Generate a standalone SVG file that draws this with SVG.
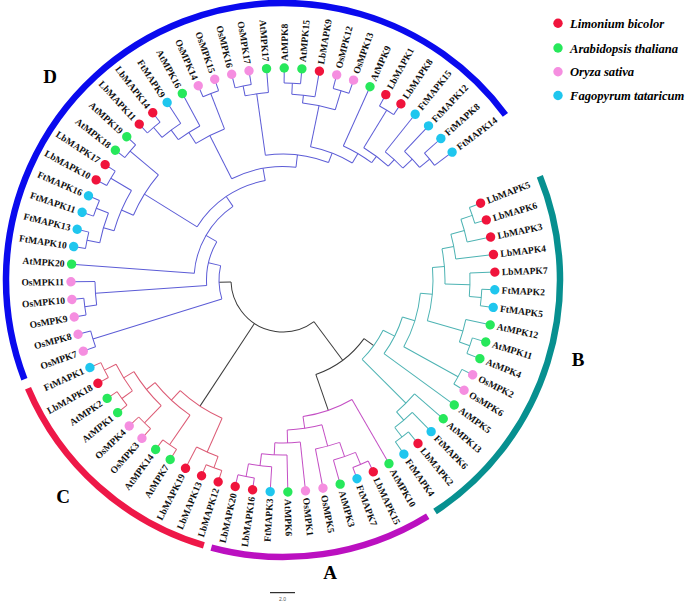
<svg xmlns="http://www.w3.org/2000/svg" width="685" height="603" viewBox="0 0 685 603">
<style>
.tr line,.tr circle{fill:none;stroke-width:1}
.k{stroke:#3a3a3a}.b{stroke:#4db3b3}.a{stroke:#c44fc4}.c{stroke:#dc5a74}.d{stroke:#5c5cd6}
.lb{fill:#f0143c}.at{fill:#27e85b}.os{fill:#f58ee0}.ft{fill:#1fc6ee}
.lf text{font-family:"Liberation Serif","Times New Roman",serif;font-weight:bold;font-size:9.6px;fill:#111}
.cl{fill:none;stroke-width:6.5}
.cll{font-family:"Liberation Serif","Times New Roman",serif;font-weight:bold;font-size:19px;fill:#000;text-anchor:middle}
.lg{font-family:"Liberation Serif","Times New Roman",serif;font-weight:bold;font-style:italic;font-size:12.6px;fill:#000}
</style>
<rect width="685" height="603" fill="#fff"/>
<g transform="translate(283,280)">
<g id="clade-arcs">
<circle class="cl" r="277" pathLength="360" stroke-dasharray="164.4 720" transform="rotate(159)" stroke="#0a0aee"/>
<circle class="cl" r="277" pathLength="360" stroke-dasharray="78.7 720" transform="rotate(-22)" stroke="#079090"/>
<circle class="cl" r="277" pathLength="360" stroke-dasharray="46.5 720" transform="rotate(58.5)" stroke="#bb10c0"/>
<circle class="cl" r="277" pathLength="360" stroke-dasharray="50.4 720" transform="rotate(106.6)" stroke="#ee1848"/>
</g>
<g id="connectors" class="tr">
<g class="k">
<circle r="52" pathLength="360" stroke-dasharray="124.535 720" transform="rotate(53.35)"/>
<line x1="52" x2="100" transform="rotate(53.35)"/>
<line x1="52" x2="151" transform="rotate(123.345)"/>
<line x1="52" x2="64" transform="rotate(177.885)"/>
<circle r="100" pathLength="360" stroke-dasharray="34.975 720" transform="rotate(35.865)"/>
<line x1="100" x2="112" transform="rotate(35.865)"/>
<line x1="100" x2="138" transform="rotate(70.84)"/>
</g>
<g class="b">
<circle r="112" pathLength="360" stroke-dasharray="18.41 720" transform="rotate(26.66)"/>
<circle r="125" pathLength="360" stroke-dasharray="18.9 720" transform="rotate(17.21)"/>
<circle r="138" pathLength="360" stroke-dasharray="23.4525 720" transform="rotate(5.4875)"/>
<circle r="200" pathLength="360" stroke-dasharray="4.78 720" transform="rotate(26.55)"/>
<circle r="150" pathLength="360" stroke-dasharray="20.615 720" transform="rotate(-4.82)"/>
<circle r="162" pathLength="360" stroke-dasharray="12.5475 720" transform="rotate(-11.0925)"/>
<circle r="174" pathLength="360" stroke-dasharray="8.365 720" transform="rotate(-15.275)"/>
<circle r="188" pathLength="360" stroke-dasharray="7.17 720" transform="rotate(-18.86)"/>
<circle r="200" pathLength="360" stroke-dasharray="4.78 720" transform="rotate(-21.25)"/>
<circle r="187" pathLength="360" stroke-dasharray="7.17 720" transform="rotate(-2.13)"/>
<circle r="199" pathLength="360" stroke-dasharray="4.78 720" transform="rotate(2.65)"/>
<circle r="187" pathLength="360" stroke-dasharray="7.17 720" transform="rotate(12.21)"/>
<circle r="198" pathLength="360" stroke-dasharray="4.78 720" transform="rotate(16.99)"/>
<circle r="174" pathLength="360" stroke-dasharray="8.365 720" transform="rotate(40.89)"/>
<circle r="185" pathLength="360" stroke-dasharray="7.17 720" transform="rotate(45.67)"/>
<circle r="197" pathLength="360" stroke-dasharray="4.78 720" transform="rotate(50.45)"/>
<line x1="112" x2="125" transform="rotate(26.66)"/>
<line x1="112" x2="174" transform="rotate(45.07)"/>
<line x1="125" x2="138" transform="rotate(17.21)"/>
<line x1="138" x2="150" transform="rotate(5.4875)"/>
<line x1="138" x2="200" transform="rotate(28.94)"/>
<line x1="150" x2="162" transform="rotate(-4.82)"/>
<line x1="150" x2="187" transform="rotate(15.795)"/>
<line x1="162" x2="174" transform="rotate(-11.0925)"/>
<line x1="162" x2="187" transform="rotate(1.455)"/>
<line x1="174" x2="188" transform="rotate(-15.275)"/>
<line x1="188" x2="200" transform="rotate(-18.86)"/>
<line x1="187" x2="199" transform="rotate(5.04)"/>
<line x1="187" x2="198" transform="rotate(19.38)"/>
<line x1="174" x2="185" transform="rotate(49.255)"/>
<line x1="185" x2="197" transform="rotate(52.84)"/>
<line x1="200" x2="212" transform="rotate(-21.25)"/>
<line x1="200" x2="212" transform="rotate(-16.47)"/>
<line x1="188" x2="212" transform="rotate(-11.69)"/>
<line x1="174" x2="212" transform="rotate(-6.91)"/>
<line x1="187" x2="212" transform="rotate(-2.13)"/>
<line x1="199" x2="212" transform="rotate(2.65)"/>
<line x1="199" x2="212" transform="rotate(7.43)"/>
<line x1="187" x2="212" transform="rotate(12.21)"/>
<line x1="198" x2="212" transform="rotate(16.99)"/>
<line x1="198" x2="212" transform="rotate(21.77)"/>
<line x1="200" x2="212" transform="rotate(26.55)"/>
<line x1="200" x2="212" transform="rotate(31.33)"/>
<line x1="125" x2="212" transform="rotate(36.11)"/>
<line x1="174" x2="212" transform="rotate(40.89)"/>
<line x1="185" x2="212" transform="rotate(45.67)"/>
<line x1="197" x2="212" transform="rotate(50.45)"/>
<line x1="197" x2="212" transform="rotate(55.23)"/>
</g>
<g class="a">
<circle r="138" pathLength="360" stroke-dasharray="21.66 720" transform="rotate(60.01)"/>
<circle r="150" pathLength="360" stroke-dasharray="13.4425 720" transform="rotate(74.9475)"/>
<circle r="172" pathLength="360" stroke-dasharray="8.365 720" transform="rotate(70.765)"/>
<circle r="187" pathLength="360" stroke-dasharray="7.17 720" transform="rotate(67.18)"/>
<circle r="200" pathLength="360" stroke-dasharray="4.78 720" transform="rotate(64.79)"/>
<circle r="163" pathLength="360" stroke-dasharray="8.9625 720" transform="rotate(83.91)"/>
<circle r="175" pathLength="360" stroke-dasharray="8.365 720" transform="rotate(88.69)"/>
<circle r="187" pathLength="360" stroke-dasharray="7.17 720" transform="rotate(93.47)"/>
<circle r="200" pathLength="360" stroke-dasharray="4.78 720" transform="rotate(98.25)"/>
<line x1="138" x2="150" transform="rotate(81.67)"/>
<line x1="150" x2="172" transform="rotate(74.9475)"/>
<line x1="150" x2="163" transform="rotate(88.39)"/>
<line x1="172" x2="187" transform="rotate(70.765)"/>
<line x1="187" x2="200" transform="rotate(67.18)"/>
<line x1="163" x2="175" transform="rotate(92.8725)"/>
<line x1="175" x2="187" transform="rotate(97.055)"/>
<line x1="187" x2="200" transform="rotate(100.64)"/>
<line x1="138" x2="212" transform="rotate(60.01)"/>
<line x1="200" x2="212" transform="rotate(64.79)"/>
<line x1="200" x2="212" transform="rotate(69.57)"/>
<line x1="187" x2="212" transform="rotate(74.35)"/>
<line x1="172" x2="212" transform="rotate(79.13)"/>
<line x1="163" x2="212" transform="rotate(83.91)"/>
<line x1="175" x2="212" transform="rotate(88.69)"/>
<line x1="187" x2="212" transform="rotate(93.47)"/>
<line x1="200" x2="212" transform="rotate(98.25)"/>
<line x1="200" x2="212" transform="rotate(103.03)"/>
</g>
<g class="c">
<circle r="151" pathLength="360" stroke-dasharray="19.12 720" transform="rotate(113.785)"/>
<circle r="188" pathLength="360" stroke-dasharray="7.17 720" transform="rotate(110.2)"/>
<circle r="200" pathLength="360" stroke-dasharray="4.78 720" transform="rotate(107.81)"/>
<circle r="164" pathLength="360" stroke-dasharray="16.73 720" transform="rotate(124.54)"/>
<circle r="200" pathLength="360" stroke-dasharray="4.78 720" transform="rotate(122.15)"/>
<circle r="175" pathLength="360" stroke-dasharray="14.34 720" transform="rotate(134.1)"/>
<circle r="199" pathLength="360" stroke-dasharray="4.78 720" transform="rotate(131.71)"/>
<circle r="187" pathLength="360" stroke-dasharray="9.56 720" transform="rotate(143.66)"/>
<circle r="200" pathLength="360" stroke-dasharray="4.78 720" transform="rotate(141.27)"/>
<circle r="200" pathLength="360" stroke-dasharray="4.78 720" transform="rotate(150.83)"/>
<line x1="151" x2="188" transform="rotate(113.785)"/>
<line x1="151" x2="164" transform="rotate(132.905)"/>
<line x1="188" x2="200" transform="rotate(110.2)"/>
<line x1="164" x2="200" transform="rotate(124.54)"/>
<line x1="164" x2="175" transform="rotate(141.27)"/>
<line x1="175" x2="199" transform="rotate(134.1)"/>
<line x1="175" x2="187" transform="rotate(148.44)"/>
<line x1="187" x2="200" transform="rotate(143.66)"/>
<line x1="187" x2="200" transform="rotate(153.22)"/>
<line x1="200" x2="212" transform="rotate(107.81)"/>
<line x1="200" x2="212" transform="rotate(112.59)"/>
<line x1="188" x2="212" transform="rotate(117.37)"/>
<line x1="200" x2="212" transform="rotate(122.15)"/>
<line x1="200" x2="212" transform="rotate(126.93)"/>
<line x1="199" x2="212" transform="rotate(131.71)"/>
<line x1="199" x2="212" transform="rotate(136.49)"/>
<line x1="200" x2="212" transform="rotate(141.27)"/>
<line x1="200" x2="212" transform="rotate(146.05)"/>
<line x1="200" x2="212" transform="rotate(150.83)"/>
<line x1="200" x2="212" transform="rotate(155.61)"/>
</g>
<g class="d">
<circle r="64" pathLength="360" stroke-dasharray="30.21 720" transform="rotate(162.78)"/>
<circle r="199" pathLength="360" stroke-dasharray="4.78 720" transform="rotate(160.39)"/>
<circle r="76.5" pathLength="360" stroke-dasharray="34.125 720" transform="rotate(175.925)"/>
<circle r="188" pathLength="360" stroke-dasharray="7.17 720" transform="rotate(172.34)"/>
<circle r="200" pathLength="360" stroke-dasharray="4.78 720" transform="rotate(169.95)"/>
<circle r="89" pathLength="360" stroke-dasharray="51.525 720" transform="rotate(184.29)"/>
<circle r="101" pathLength="360" stroke-dasharray="48.08 720" transform="rotate(211.775)"/>
<circle r="163" pathLength="360" stroke-dasharray="16.73 720" transform="rotate(203.41)"/>
<circle r="176" pathLength="360" stroke-dasharray="14.34 720" transform="rotate(196.24)"/>
<circle r="187" pathLength="360" stroke-dasharray="9.56 720" transform="rotate(191.46)"/>
<circle r="200" pathLength="360" stroke-dasharray="4.78 720" transform="rotate(189.07)"/>
<circle r="200" pathLength="360" stroke-dasharray="4.78 720" transform="rotate(198.63)"/>
<circle r="200" pathLength="360" stroke-dasharray="4.78 720" transform="rotate(208.19)"/>
<circle r="200" pathLength="360" stroke-dasharray="4.78 720" transform="rotate(217.75)"/>
<circle r="113.5" pathLength="360" stroke-dasharray="33.43 720" transform="rotate(243.14)"/>
<circle r="162" pathLength="360" stroke-dasharray="11.3525 720" transform="rotate(237.4675)"/>
<circle r="175" pathLength="360" stroke-dasharray="8.365 720" transform="rotate(233.285)"/>
<circle r="187" pathLength="360" stroke-dasharray="7.17 720" transform="rotate(229.7)"/>
<circle r="200" pathLength="360" stroke-dasharray="4.78 720" transform="rotate(227.31)"/>
<circle r="200" pathLength="360" stroke-dasharray="4.78 720" transform="rotate(246.43)"/>
<circle r="126" pathLength="360" stroke-dasharray="29.205 720" transform="rotate(261.965)"/>
<circle r="188" pathLength="360" stroke-dasharray="7.17 720" transform="rotate(258.38)"/>
<circle r="198" pathLength="360" stroke-dasharray="4.78 720" transform="rotate(255.99)"/>
<circle r="136" pathLength="360" stroke-dasharray="18.97 720" transform="rotate(281.68)"/>
<circle r="178" pathLength="360" stroke-dasharray="10.755 720" transform="rotate(276.305)"/>
<circle r="186" pathLength="360" stroke-dasharray="7.17 720" transform="rotate(272.72)"/>
<circle r="197" pathLength="360" stroke-dasharray="4.78 720" transform="rotate(270.33)"/>
<circle r="198" pathLength="360" stroke-dasharray="4.78 720" transform="rotate(284.67)"/>
<circle r="147" pathLength="360" stroke-dasharray="12.85 720" transform="rotate(294.23)"/>
<circle r="155" pathLength="360" stroke-dasharray="11.35 720" transform="rotate(301.4)"/>
<circle r="199" pathLength="360" stroke-dasharray="4.78 720" transform="rotate(299.01)"/>
<circle r="164" pathLength="360" stroke-dasharray="8.365 720" transform="rotate(308.57)"/>
<circle r="177" pathLength="360" stroke-dasharray="7.17 720" transform="rotate(313.35)"/>
<circle r="190" pathLength="360" stroke-dasharray="4.78 720" transform="rotate(318.13)"/>
<line x1="64" x2="199" transform="rotate(162.78)"/>
<line x1="64" x2="76.5" transform="rotate(192.99)"/>
<line x1="76.5" x2="188" transform="rotate(175.925)"/>
<line x1="76.5" x2="89" transform="rotate(210.05)"/>
<line x1="188" x2="200" transform="rotate(172.34)"/>
<line x1="89" x2="101" transform="rotate(235.815)"/>
<line x1="101" x2="163" transform="rotate(211.775)"/>
<line x1="101" x2="113.5" transform="rotate(259.855)"/>
<line x1="163" x2="176" transform="rotate(203.41)"/>
<line x1="163" x2="200" transform="rotate(220.14)"/>
<line x1="176" x2="187" transform="rotate(196.24)"/>
<line x1="176" x2="200" transform="rotate(210.58)"/>
<line x1="187" x2="200" transform="rotate(191.46)"/>
<line x1="187" x2="200" transform="rotate(201.02)"/>
<line x1="113.5" x2="162" transform="rotate(243.14)"/>
<line x1="113.5" x2="126" transform="rotate(276.57)"/>
<line x1="162" x2="175" transform="rotate(237.4675)"/>
<line x1="162" x2="200" transform="rotate(248.82)"/>
<line x1="175" x2="187" transform="rotate(233.285)"/>
<line x1="187" x2="200" transform="rotate(229.7)"/>
<line x1="126" x2="188" transform="rotate(261.965)"/>
<line x1="126" x2="136" transform="rotate(291.17)"/>
<line x1="188" x2="198" transform="rotate(258.38)"/>
<line x1="136" x2="178" transform="rotate(281.68)"/>
<line x1="136" x2="147" transform="rotate(300.65)"/>
<line x1="178" x2="186" transform="rotate(276.305)"/>
<line x1="178" x2="198" transform="rotate(287.06)"/>
<line x1="186" x2="197" transform="rotate(272.72)"/>
<line x1="147" x2="155" transform="rotate(307.08)"/>
<line x1="155" x2="199" transform="rotate(301.4)"/>
<line x1="155" x2="164" transform="rotate(312.75)"/>
<line x1="164" x2="177" transform="rotate(316.935)"/>
<line x1="177" x2="190" transform="rotate(320.52)"/>
<line x1="199" x2="212" transform="rotate(160.39)"/>
<line x1="199" x2="212" transform="rotate(165.17)"/>
<line x1="200" x2="212" transform="rotate(169.95)"/>
<line x1="200" x2="212" transform="rotate(174.73)"/>
<line x1="188" x2="212" transform="rotate(179.51)"/>
<line x1="89" x2="212" transform="rotate(184.29)"/>
<line x1="200" x2="212" transform="rotate(189.07)"/>
<line x1="200" x2="212" transform="rotate(193.85)"/>
<line x1="200" x2="212" transform="rotate(198.63)"/>
<line x1="200" x2="212" transform="rotate(203.41)"/>
<line x1="200" x2="212" transform="rotate(208.19)"/>
<line x1="200" x2="212" transform="rotate(212.97)"/>
<line x1="200" x2="212" transform="rotate(217.75)"/>
<line x1="200" x2="212" transform="rotate(222.53)"/>
<line x1="200" x2="212" transform="rotate(227.31)"/>
<line x1="200" x2="212" transform="rotate(232.09)"/>
<line x1="187" x2="212" transform="rotate(236.87)"/>
<line x1="175" x2="212" transform="rotate(241.65)"/>
<line x1="200" x2="212" transform="rotate(246.43)"/>
<line x1="200" x2="212" transform="rotate(251.21)"/>
<line x1="198" x2="212" transform="rotate(255.99)"/>
<line x1="198" x2="212" transform="rotate(260.77)"/>
<line x1="188" x2="212" transform="rotate(265.55)"/>
<line x1="197" x2="212" transform="rotate(270.33)"/>
<line x1="197" x2="212" transform="rotate(275.11)"/>
<line x1="186" x2="212" transform="rotate(279.89)"/>
<line x1="198" x2="212" transform="rotate(284.67)"/>
<line x1="198" x2="212" transform="rotate(289.45)"/>
<line x1="147" x2="212" transform="rotate(294.23)"/>
<line x1="199" x2="212" transform="rotate(299.01)"/>
<line x1="199" x2="212" transform="rotate(303.79)"/>
<line x1="164" x2="212" transform="rotate(308.57)"/>
<line x1="177" x2="212" transform="rotate(313.35)"/>
<line x1="190" x2="212" transform="rotate(318.13)"/>
<line x1="190" x2="212" transform="rotate(322.91)"/>
</g>
</g>
<g class="lf">
<g id="LbMAPK5" transform="rotate(-21.25)"><circle cx="212" r="4.7" class="lb"/><text x="219" dy="0.35em">LbMAPK5</text></g>
<g id="LbMAPK6" transform="rotate(-16.47)"><circle cx="212" r="4.7" class="lb"/><text x="219" dy="0.35em">LbMAPK6</text></g>
<g id="LbMAPK3" transform="rotate(-11.69)"><circle cx="212" r="4.7" class="lb"/><text x="219" dy="0.35em">LbMAPK3</text></g>
<g id="LbMAPK4" transform="rotate(-6.91)"><circle cx="212" r="4.7" class="lb"/><text x="219" dy="0.35em">LbMAPK4</text></g>
<g id="LbMAPK7" transform="rotate(-2.13)"><circle cx="212" r="4.7" class="lb"/><text x="219" dy="0.35em">LbMAPK7</text></g>
<g id="FtMAPK2" transform="rotate(2.65)"><circle cx="212" r="4.7" class="ft"/><text x="219" dy="0.35em">FtMAPK2</text></g>
<g id="FtMAPK5" transform="rotate(7.43)"><circle cx="212" r="4.7" class="ft"/><text x="219" dy="0.35em">FtMAPK5</text></g>
<g id="AtMPK12" transform="rotate(12.21)"><circle cx="212" r="4.7" class="at"/><text x="219" dy="0.35em">AtMPK12</text></g>
<g id="AtMPK11" transform="rotate(16.99)"><circle cx="212" r="4.7" class="at"/><text x="219" dy="0.35em">AtMPK11</text></g>
<g id="AtMPK4" transform="rotate(21.77)"><circle cx="212" r="4.7" class="at"/><text x="219" dy="0.35em">AtMPK4</text></g>
<g id="OsMPK2" transform="rotate(26.55)"><circle cx="212" r="4.7" class="os"/><text x="219" dy="0.35em">OsMPK2</text></g>
<g id="OsMPK6" transform="rotate(31.33)"><circle cx="212" r="4.7" class="os"/><text x="219" dy="0.35em">OsMPK6</text></g>
<g id="AtMPK5" transform="rotate(36.11)"><circle cx="212" r="4.7" class="at"/><text x="219" dy="0.35em">AtMPK5</text></g>
<g id="AtMPK13" transform="rotate(40.89)"><circle cx="212" r="4.7" class="at"/><text x="219" dy="0.35em">AtMPK13</text></g>
<g id="FtMAPK6" transform="rotate(45.67)"><circle cx="212" r="4.7" class="ft"/><text x="219" dy="0.35em">FtMAPK6</text></g>
<g id="LbMAPK2" transform="rotate(50.45)"><circle cx="212" r="4.7" class="lb"/><text x="219" dy="0.35em">LbMAPK2</text></g>
<g id="FtMAPK4" transform="rotate(55.23)"><circle cx="212" r="4.7" class="ft"/><text x="219" dy="0.35em">FtMAPK4</text></g>
<g id="AtMPK10" transform="rotate(60.01)"><circle cx="212" r="4.7" class="at"/><text x="219" dy="0.35em">AtMPK10</text></g>
<g id="LbMAPK15" transform="rotate(64.79)"><circle cx="212" r="4.7" class="lb"/><text x="219" dy="0.35em">LbMAPK15</text></g>
<g id="FtMAPK7" transform="rotate(69.57)"><circle cx="212" r="4.7" class="ft"/><text x="219" dy="0.35em">FtMAPK7</text></g>
<g id="AtMPK3" transform="rotate(74.35)"><circle cx="212" r="4.7" class="at"/><text x="219" dy="0.35em">AtMPK3</text></g>
<g id="OsMPK5" transform="rotate(79.13)"><circle cx="212" r="4.7" class="os"/><text x="219" dy="0.35em">OsMPK5</text></g>
<g id="OsMPK1" transform="rotate(83.91)"><circle cx="212" r="4.7" class="os"/><text x="219" dy="0.35em">OsMPK1</text></g>
<g id="AtMPK6" transform="rotate(88.69)"><circle cx="212" r="4.7" class="at"/><text x="219" dy="0.35em">AtMPK6</text></g>
<g id="FtMAPK3" transform="rotate(93.47)"><circle cx="212" r="4.7" class="ft"/><text transform="translate(219,0) rotate(180)" text-anchor="end" dy="0.35em">FtMAPK3</text></g>
<g id="LbMAPK16" transform="rotate(98.25)"><circle cx="212" r="4.7" class="lb"/><text transform="translate(219,0) rotate(180)" text-anchor="end" dy="0.35em">LbMAPK16</text></g>
<g id="LbMAPK20" transform="rotate(103.03)"><circle cx="212" r="4.7" class="lb"/><text transform="translate(219,0) rotate(180)" text-anchor="end" dy="0.35em">LbMAPK20</text></g>
<g id="LbMAPK12" transform="rotate(107.81)"><circle cx="212" r="4.7" class="lb"/><text transform="translate(219,0) rotate(180)" text-anchor="end" dy="0.35em">LbMAPK12</text></g>
<g id="LbMAPK13" transform="rotate(112.59)"><circle cx="212" r="4.7" class="lb"/><text transform="translate(219,0) rotate(180)" text-anchor="end" dy="0.35em">LbMAPK13</text></g>
<g id="LbMAPK19" transform="rotate(117.37)"><circle cx="212" r="4.7" class="lb"/><text transform="translate(219,0) rotate(180)" text-anchor="end" dy="0.35em">LbMAPK19</text></g>
<g id="AtMPK7" transform="rotate(122.15)"><circle cx="212" r="4.7" class="at"/><text transform="translate(219,0) rotate(180)" text-anchor="end" dy="0.35em">AtMPK7</text></g>
<g id="AtMPK14" transform="rotate(126.93)"><circle cx="212" r="4.7" class="at"/><text transform="translate(219,0) rotate(180)" text-anchor="end" dy="0.35em">AtMPK14</text></g>
<g id="OsMPK3" transform="rotate(131.71)"><circle cx="212" r="4.7" class="os"/><text transform="translate(219,0) rotate(180)" text-anchor="end" dy="0.35em">OsMPK3</text></g>
<g id="OsMPK4" transform="rotate(136.49)"><circle cx="212" r="4.7" class="os"/><text transform="translate(219,0) rotate(180)" text-anchor="end" dy="0.35em">OsMPK4</text></g>
<g id="AtMPK1" transform="rotate(141.27)"><circle cx="212" r="4.7" class="at"/><text transform="translate(219,0) rotate(180)" text-anchor="end" dy="0.35em">AtMPK1</text></g>
<g id="AtMPK2" transform="rotate(146.05)"><circle cx="212" r="4.7" class="at"/><text transform="translate(219,0) rotate(180)" text-anchor="end" dy="0.35em">AtMPK2</text></g>
<g id="LbMAPK18" transform="rotate(150.83)"><circle cx="212" r="4.7" class="lb"/><text transform="translate(219,0) rotate(180)" text-anchor="end" dy="0.35em">LbMAPK18</text></g>
<g id="FtMAPK1" transform="rotate(155.61)"><circle cx="212" r="4.7" class="ft"/><text transform="translate(219,0) rotate(180)" text-anchor="end" dy="0.35em">FtMAPK1</text></g>
<g id="OsMPK7" transform="rotate(160.39)"><circle cx="212" r="4.7" class="os"/><text transform="translate(219,0) rotate(180)" text-anchor="end" dy="0.35em">OsMPK7</text></g>
<g id="OsMPK8" transform="rotate(165.17)"><circle cx="212" r="4.7" class="os"/><text transform="translate(219,0) rotate(180)" text-anchor="end" dy="0.35em">OsMPK8</text></g>
<g id="OsMPK9" transform="rotate(169.95)"><circle cx="212" r="4.7" class="os"/><text transform="translate(219,0) rotate(180)" text-anchor="end" dy="0.35em">OsMPK9</text></g>
<g id="OsMPK10" transform="rotate(174.73)"><circle cx="212" r="4.7" class="os"/><text transform="translate(219,0) rotate(180)" text-anchor="end" dy="0.35em">OsMPK10</text></g>
<g id="OsMPK11" transform="rotate(179.51)"><circle cx="212" r="4.7" class="os"/><text transform="translate(219,0) rotate(180)" text-anchor="end" dy="0.35em">OsMPK11</text></g>
<g id="AtMPK20" transform="rotate(184.29)"><circle cx="212" r="4.7" class="at"/><text transform="translate(219,0) rotate(180)" text-anchor="end" dy="0.35em">AtMPK20</text></g>
<g id="FtMAPK10" transform="rotate(189.07)"><circle cx="212" r="4.7" class="ft"/><text transform="translate(219,0) rotate(180)" text-anchor="end" dy="0.35em">FtMAPK10</text></g>
<g id="FtMAPK13" transform="rotate(193.85)"><circle cx="212" r="4.7" class="ft"/><text transform="translate(219,0) rotate(180)" text-anchor="end" dy="0.35em">FtMAPK13</text></g>
<g id="FtMAPK11" transform="rotate(198.63)"><circle cx="212" r="4.7" class="ft"/><text transform="translate(219,0) rotate(180)" text-anchor="end" dy="0.35em">FtMAPK11</text></g>
<g id="FtMAPK16" transform="rotate(203.41)"><circle cx="212" r="4.7" class="ft"/><text transform="translate(219,0) rotate(180)" text-anchor="end" dy="0.35em">FtMAPK16</text></g>
<g id="LbMAPK10" transform="rotate(208.19)"><circle cx="212" r="4.7" class="lb"/><text transform="translate(219,0) rotate(180)" text-anchor="end" dy="0.35em">LbMAPK10</text></g>
<g id="LbMAPK17" transform="rotate(212.97)"><circle cx="212" r="4.7" class="lb"/><text transform="translate(219,0) rotate(180)" text-anchor="end" dy="0.35em">LbMAPK17</text></g>
<g id="AtMPK18" transform="rotate(217.75)"><circle cx="212" r="4.7" class="at"/><text transform="translate(219,0) rotate(180)" text-anchor="end" dy="0.35em">AtMPK18</text></g>
<g id="AtMPK19" transform="rotate(222.53)"><circle cx="212" r="4.7" class="at"/><text transform="translate(219,0) rotate(180)" text-anchor="end" dy="0.35em">AtMPK19</text></g>
<g id="LbMAPK11" transform="rotate(227.31)"><circle cx="212" r="4.7" class="lb"/><text transform="translate(219,0) rotate(180)" text-anchor="end" dy="0.35em">LbMAPK11</text></g>
<g id="LbMAPK14" transform="rotate(232.09)"><circle cx="212" r="4.7" class="lb"/><text transform="translate(219,0) rotate(180)" text-anchor="end" dy="0.35em">LbMAPK14</text></g>
<g id="FtMAPK9" transform="rotate(236.87)"><circle cx="212" r="4.7" class="ft"/><text transform="translate(219,0) rotate(180)" text-anchor="end" dy="0.35em">FtMAPK9</text></g>
<g id="AtMPK16" transform="rotate(241.65)"><circle cx="212" r="4.7" class="at"/><text transform="translate(219,0) rotate(180)" text-anchor="end" dy="0.35em">AtMPK16</text></g>
<g id="OsMPK14" transform="rotate(246.43)"><circle cx="212" r="4.7" class="os"/><text transform="translate(219,0) rotate(180)" text-anchor="end" dy="0.35em">OsMPK14</text></g>
<g id="OsMPK15" transform="rotate(251.21)"><circle cx="212" r="4.7" class="os"/><text transform="translate(219,0) rotate(180)" text-anchor="end" dy="0.35em">OsMPK15</text></g>
<g id="OsMPK16" transform="rotate(255.99)"><circle cx="212" r="4.7" class="os"/><text transform="translate(219,0) rotate(180)" text-anchor="end" dy="0.35em">OsMPK16</text></g>
<g id="OsMPK17" transform="rotate(260.77)"><circle cx="212" r="4.7" class="os"/><text transform="translate(219,0) rotate(180)" text-anchor="end" dy="0.35em">OsMPK17</text></g>
<g id="AtMPK17" transform="rotate(265.55)"><circle cx="212" r="4.7" class="at"/><text transform="translate(219,0) rotate(180)" text-anchor="end" dy="0.35em">AtMPK17</text></g>
<g id="AtMPK8" transform="rotate(270.33)"><circle cx="212" r="4.7" class="at"/><text x="219" dy="0.35em">AtMPK8</text></g>
<g id="AtMPK15" transform="rotate(275.11)"><circle cx="212" r="4.7" class="at"/><text x="219" dy="0.35em">AtMPK15</text></g>
<g id="LbMAPK9" transform="rotate(279.89)"><circle cx="212" r="4.7" class="lb"/><text x="219" dy="0.35em">LbMAPK9</text></g>
<g id="OsMPK12" transform="rotate(284.67)"><circle cx="212" r="4.7" class="os"/><text x="219" dy="0.35em">OsMPK12</text></g>
<g id="OsMPK13" transform="rotate(289.45)"><circle cx="212" r="4.7" class="os"/><text x="219" dy="0.35em">OsMPK13</text></g>
<g id="AtMPK9" transform="rotate(294.23)"><circle cx="212" r="4.7" class="at"/><text x="219" dy="0.35em">AtMPK9</text></g>
<g id="LbMAPK1" transform="rotate(299.01)"><circle cx="212" r="4.7" class="lb"/><text x="219" dy="0.35em">LbMAPK1</text></g>
<g id="LbMAPK8" transform="rotate(303.79)"><circle cx="212" r="4.7" class="lb"/><text x="219" dy="0.35em">LbMAPK8</text></g>
<g id="FtMAPK15" transform="rotate(308.57)"><circle cx="212" r="4.7" class="ft"/><text x="219" dy="0.35em">FtMAPK15</text></g>
<g id="FtMAPK12" transform="rotate(313.35)"><circle cx="212" r="4.7" class="ft"/><text x="219" dy="0.35em">FtMAPK12</text></g>
<g id="FtMAPK8" transform="rotate(318.13)"><circle cx="212" r="4.7" class="ft"/><text x="219" dy="0.35em">FtMAPK8</text></g>
<g id="FtMAPK14" transform="rotate(322.91)"><circle cx="212" r="4.7" class="ft"/><text x="219" dy="0.35em">FtMAPK14</text></g>
</g>
</g>
<g id="clade-labels" class="cll">
<text x="330" y="579">A</text>
<text x="578" y="366">B</text>
<text x="63" y="503">C</text>
<text x="50" y="83">D</text>
</g>
<g id="legend">
<circle cx="558" cy="23.3" r="4.7" class="lb"/><text class="lg" x="570" y="28">Limonium bicolor</text>
<circle cx="558" cy="48" r="4.7" class="at"/><text class="lg" x="570" y="52.7">Arabidopsis thaliana</text>
<circle cx="558" cy="71.7" r="4.7" class="os"/><text class="lg" x="570" y="76.4">Oryza sativa</text>
<circle cx="558" cy="95.5" r="4.7" class="ft"/><text class="lg" x="570" y="100.2">Fagopyrum tataricum</text>
</g>
<g id="scale-bar">
<line x1="270" y1="592.7" x2="295" y2="592.7" stroke="#000" stroke-width="1"/>
<text x="282.5" y="601" font-family="Liberation Sans, Arial, sans-serif" font-size="5" fill="#555" text-anchor="middle">2.0</text>
</g>
</svg>
